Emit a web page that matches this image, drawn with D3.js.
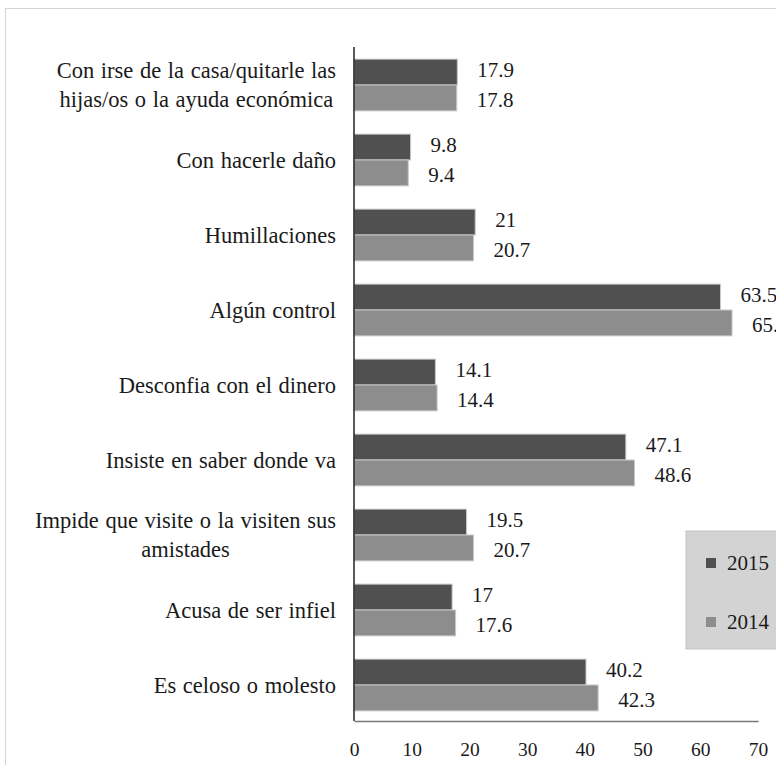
<!DOCTYPE html>
<html>
<head>
<meta charset="utf-8">
<script src="https://cdn.jsdelivr.net/npm/d3@7"></script>
</head>
<body style="margin:0;background:#fff">
<svg width="776" height="765"></svg>
<script>
// categories, top to bottom (each label split into its lines)
let categories = [
  ["Con irse de la casa/quitarle las", "hijas/os o la ayuda económica"],
  ["Con hacerle daño"],
  ["Humillaciones"],
  ["Algún control"],
  ["Desconfia con el dinero"],
  ["Insiste en saber donde va"],
  ["Impide que visite o la visiten sus", "amistades"],
  ["Acusa de ser infiel"],
  ["Es celoso o molesto"]
];
let years = ["2015", "2014"];
let values2015 = [17.9, 9.8, 21, 63.5, 14.1, 47.1, 19.5, 17, 40.2];
let values2014 = [17.8, 9.4, 20.7, 65.5, 14.4, 48.6, 20.7, 17.6, 42.3];
let xTicks = [0, 10, 20, 30, 40, 50, 60, 70];

let colors = { "2015": "#505050", "2014": "#8d8d8d" };
let font = "'Liberation Serif', Tinos, serif";
let ink = "#1a1a1a";

let svg = d3.select("svg");

// outer frame (runs off the right edge like the original)
svg.append("rect")
  .attr("x", 5.5).attr("y", 8.5)
  .attr("width", 800).attr("height", 800)
  .attr("fill", "none")
  .attr("stroke", "#d4d4d4");

let x = d3.scaleLinear()
  .domain([0, 70])
  .range([354, 758]);

let y = d3.scaleBand()
  .domain(d3.range(categories.length))
  .range([47.5, 722.5])
  .paddingInner(0.31)
  .paddingOuter(0.155);

let sub = d3.scaleBand()
  .domain(years)
  .range([0, y.bandwidth()]);

let rows = categories.map((c, i) => ({
  i: i,
  label: c,
  vals: [{ year: "2015", v: values2015[i] }, { year: "2014", v: values2014[i] }]
}));

let groups = svg.append("g")
  .selectAll("g")
  .data(rows)
  .enter().append("g")
    .attr("transform", d => "translate(0," + y(d.i) + ")");

groups.selectAll("rect")
  .data(d => d.vals)
  .enter().append("rect")
    .attr("x", x(0))
    .attr("y", d => sub(d.year))
    .attr("width", d => x(d.v) - x(0))
    .attr("height", sub.bandwidth())
    .attr("fill", d => colors[d.year])
    .attr("stroke", "#c8c8c8")
    .attr("stroke-width", 1);

// value labels
groups.selectAll("text.val")
  .data(d => d.vals)
  .enter().append("text")
    .attr("class", "val")
    .attr("x", d => x(d.v) + 20)
    .attr("y", d => sub(d.year) + sub.bandwidth() / 2)
    .attr("dy", d => d.year == "2015" ? "0.25em" : "0.45em")
    .style("font-family", font)
    .style("font-size", "21px")
    .attr("fill", ink)
    .text(d => d.v);

// category labels: block right aligned, lines centred inside it
let labelRight = 336;
groups.each(function(d) {
  let g = d3.select(this);
  let n = d.label.length;
  let lineH = 29;
  let t = g.append("text")
    .style("font-family", font)
    .style("font-size", "22.5px")
    .style("word-spacing", "1px")
    .attr("fill", ink)
    .attr("text-anchor", "middle");
  d.label.forEach((line, k) => {
    t.append("tspan")
      .attr("y", y.bandwidth() / 2 + (k - (n - 1) / 2) * lineH)
      .attr("dy", "0.35em")
      .text(line);
  });
  let w = d3.max(t.selectAll("tspan").nodes(), s => s.getComputedTextLength());
  t.selectAll("tspan").attr("x", labelRight - w / 2);
});

// axes
let yAxisG = svg.append("g")
  .attr("transform", "translate(" + x(0) + ",0)")
  .call(d3.axisLeft(y).tickSize(0).tickFormat(""));
yAxisG.select(".domain").attr("stroke", "#222").attr("stroke-width", 1.5)
  .attr("d", "M0,47V721");

let xAxisG = svg.append("g")
  .attr("transform", "translate(0,721)")
  .call(d3.axisBottom(x).tickValues(xTicks).tickSize(0).tickPadding(21));
xAxisG.select(".domain").attr("stroke", "#777").attr("stroke-width", 1.5);
xAxisG.selectAll("text")
  .style("font-family", font)
  .style("font-size", "19.5px")
  .attr("fill", ink);

// legend
let legend = svg.append("g").attr("transform", "translate(686,531)");
legend.append("rect")
  .attr("width", 120).attr("height", 118)
  .attr("fill", "#d3d3d3")
  .attr("stroke", "#c4c4c4");
let legY = d3.scalePoint().domain(years).range([32, 91]);
legend.selectAll("rect.key")
  .data(years)
  .enter().append("rect")
    .attr("class", "key")
    .attr("x", 20)
    .attr("y", d => legY(d) - 5)
    .attr("width", 10).attr("height", 10)
    .attr("fill", d => colors[d]);
legend.selectAll("text.key")
  .data(years)
  .enter().append("text")
    .attr("class", "key")
    .attr("x", 41)
    .attr("y", d => legY(d))
    .attr("dy", "0.35em")
    .style("font-family", font)
    .style("font-size", "21px")
    .attr("fill", ink)
    .text(d => d);
</script>
</body>
</html>
